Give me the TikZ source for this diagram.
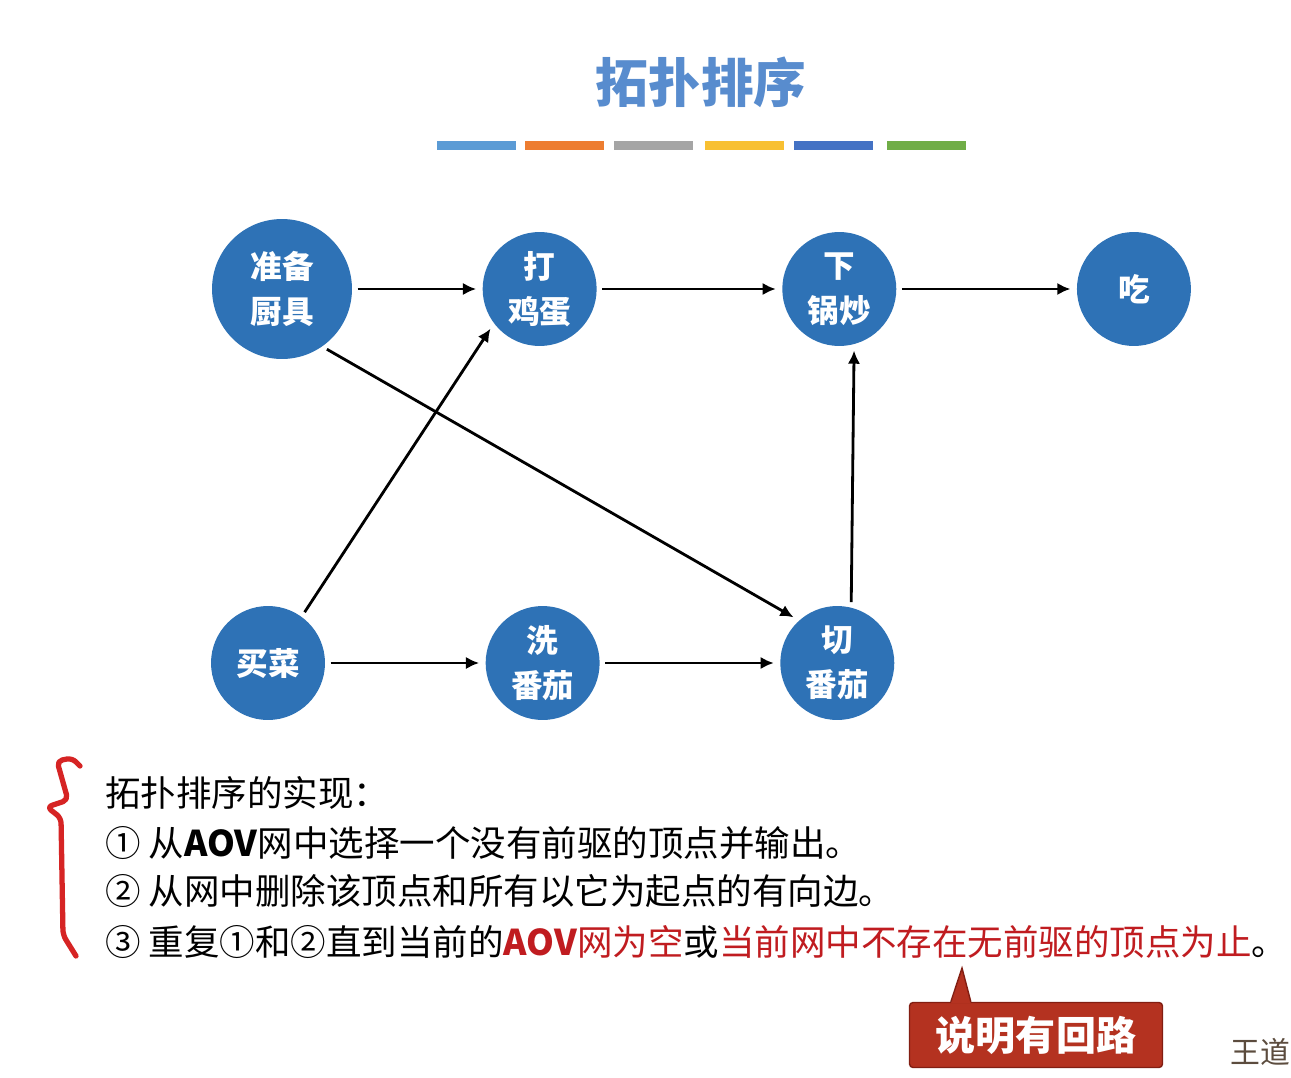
\documentclass[tikz,border=0pt]{standalone}
\usepackage{fontspec}
\setmainfont{Noto Sans CJK SC}
\usetikzlibrary{positioning,arrows.meta,calc}
\definecolor{nodeblue}{RGB}{46,114,182}
\definecolor{titleblue}{RGB}{88,140,206}
\definecolor{alertred}{RGB}{192,28,32}
\definecolor{bracered}{RGB}{214,36,36}
\definecolor{calloutfill}{RGB}{180,50,32}
\definecolor{calloutedge}{RGB}{130,30,18}
\definecolor{signgray}{RGB}{92,76,62}
\definecolor{barA}{RGB}{91,155,213}
\definecolor{barB}{RGB}{237,125,49}
\definecolor{barC}{RGB}{165,165,165}
\definecolor{barD}{RGB}{248,192,50}
\definecolor{barE}{RGB}{68,114,196}
\definecolor{barF}{RGB}{112,173,71}

\begin{document}
\begin{tikzpicture}[x=0.02cm,y=-0.02cm,->,>={Latex[length=7.5pt,width=7pt]},
   every edge/.append style={line width=1.6pt,shorten >=3.5pt,shorten <=3pt},
   vertex/.style={circle,fill=nodeblue,text=white,inner sep=0pt,minimum size=2.28cm,
     align=center,font=\fontsize{18pt}{25.6pt}\selectfont\bfseries},
   textline/.style={anchor=west,inner sep=0pt,font=\fontsize{20.2pt}{24pt}\selectfont}]
  \fill[white] (0,0) rectangle (1291,1078);
  \useasboundingbox (0,0) rectangle (1291,1078);

  % title and colour strip
  \node[text=titleblue,font=\fontsize{30pt}{36pt}\selectfont\bfseries] (title) at (701,82) {拓扑排序};
  \foreach \x/\c in {437/barA,525/barB,614/barC,705/barD,794/barE,887/barF}
    \fill[\c] (\x,141) rectangle ++(79,9);

  % AOV net
  \node[vertex,minimum size=2.8cm] (prep) at (282,289) {准备\\厨具};
  \node[vertex] (egg) [right=2.6cm of prep] {打\\鸡蛋};
  \node[vertex] (fry) [right=3.7cm of egg] {下\\锅炒};
  \node[vertex] (eat) [right=3.6cm of fry] {吃};
  \node[vertex] (buy) at (268,663) {买菜};
  \node[vertex] (wash) [right=3.2cm of buy] {洗\\番茄};
  \node[vertex] (cut) [right=3.6cm of wash] {切\\番茄};
  \path[line width=1.6pt]
   (prep) edge (egg)
   (egg) edge (fry)
   (fry) edge (eat)
   (prep.-55) edge (cut.132)
   (buy.54) edge (egg.217)
   (buy) edge (wash)
   (wash) edge (cut)
   (cut.76) edge (fry.-75);

  % steps
  \draw[-,bracered,line width=3pt,line cap=round,line join=round,rounded corners=3pt]
    (80,766) -- (72,758) -- (57,761) -- (68,800) -- (47,807) -- (61,818) -- (63,935) -- (76,956);
  \node[textline] (head) at (105,793) {拓扑排序的实现：};
  \node[textline] (rule1) at (105,843) {① 从\textbf{AOV}网中选择一个没有前驱的顶点并输出。};
  \node[textline] (rule2) at (105,891) {② 从网中删除该顶点和所有以它为起点的有向边。};
  \node[textline] (rule3) at (105,942) {③ 重复①和②直到当前的\textcolor{alertred}{\textbf{AOV}网为空}或\textcolor{alertred}{当前网中不存在无前驱的顶点为止}。};

  % callout
  \node[fill=calloutfill,draw=calloutedge,line width=0.8pt,rounded corners=2pt,
    minimum width=5.06cm,minimum height=1.3cm,text=white,
    font=\fontsize{22.8pt}{26pt}\selectfont\bfseries] (loop) at (1036,1035) {说明有回路};
  \coordinate (tip) at (962,968);
  \fill[calloutfill] ($(loop.north west)+(42,1.5)$) -- (tip) -- ($(loop.north west)+(62,1.5)$) -- cycle;
  \draw[-,calloutedge,line width=0.8pt] ($(loop.north west)+(42,0)$) -- (tip) -- ($(loop.north west)+(62,0)$);
  \node[text=signgray,font=\fontsize{17pt}{20pt}\selectfont] (sign) at (1260,1052) {王道};
\end{tikzpicture}
\end{document}
